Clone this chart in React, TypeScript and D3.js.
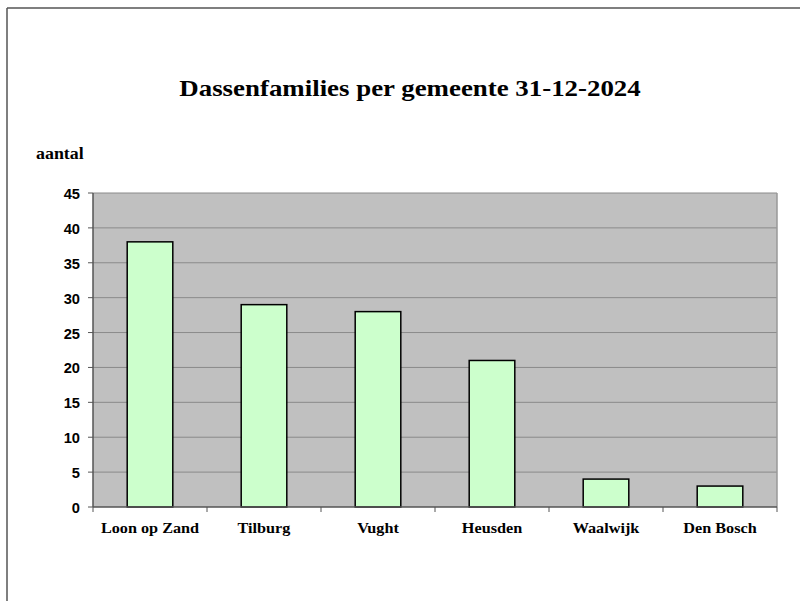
import React from "react";
import * as d3 from "d3";

const categories = ["Loon op Zand", "Tilburg", "Vught", "Heusden", "Waalwijk", "Den Bosch"];
const values = [38, 29, 28, 21, 4, 3];
const yTicks = [0, 5, 10, 15, 20, 25, 30, 35, 40, 45];
const title = "Dassenfamilies per gemeente 31-12-2024";
const yLabel = "aantal";

function SText({ x, y, sx, anchor, family, size, children }: any) {
  return (
    <text transform={`translate(${x},${y}) scale(${sx},1)`} textAnchor={anchor} fontFamily={family} fontWeight="bold" fontSize={size} fill="#000">{children}</text>
  );
}

export default function App() {
  const W = 800, H = 601;
  const left = 93, right = 777, top = 193, bottom = 507;
  const x = d3.scaleBand<string>().domain(categories).range([left, right]).paddingInner(0).paddingOuter(0);
  const y = d3.scaleLinear().domain([0, 45]).range([bottom, top]);
  const bw = x.bandwidth() * 0.4;
  const serif = "'Liberation Serif', 'Times New Roman', serif";
  const sans = "'Liberation Sans', Arial, sans-serif";
  return (
    <svg width={W} height={H} style={{ position: "absolute", left: 0, top: 0 }}>
      <rect x={0} y={0} width={W} height={H} fill="#fff" />
      <line x1={7} y1={8} x2={W} y2={8} stroke="#555" strokeWidth={1.5} />
      <line x1={7} y1={8} x2={7} y2={H} stroke="#555" strokeWidth={1.5} />
      <SText x={410} y={96} sx={1.12} anchor="middle" family={serif} size={24}>{title}</SText>
      <SText x={36} y={159} sx={1.12} anchor="start" family={serif} size={16}>{yLabel}</SText>
      <rect x={left} y={top} width={right - left} height={bottom - top} fill="#c0c0c0" />
      {yTicks.map(t => (
        <g key={t}>
          {t > 0 && <line x1={left} x2={right} y1={y(t)} y2={y(t)} stroke="#8a8a8a" strokeWidth={1} />}
          <line x1={left - 5} x2={left} y1={y(t)} y2={y(t)} stroke="#555" strokeWidth={1} />
          <SText x={80} y={y(t) + 6} sx={1.05} anchor="end" family={sans} size={14}>{t}</SText>
        </g>
      ))}
      <line x1={right} x2={right} y1={top} y2={bottom} stroke="#999" strokeWidth={1.5} />
      {categories.map((c, i) => (
        <rect key={c} x={(x(c) as number) + (x.bandwidth() - bw) / 2} y={y(values[i])} width={bw} height={y(0) - y(values[i])} fill="#ccffcc" stroke="#000" strokeWidth={1.5} />
      ))}
      <line x1={left} x2={left} y1={top} y2={bottom} stroke="#555" strokeWidth={1.5} />
      <line x1={left} x2={right} y1={bottom} y2={bottom} stroke="#555" strokeWidth={1.5} />
      {categories.map(c => (
        <line key={"t" + c} x1={(x(c) as number)} x2={(x(c) as number)} y1={bottom} y2={bottom + 5} stroke="#555" strokeWidth={1} />
      ))}
      <line x1={right} x2={right} y1={bottom} y2={bottom + 5} stroke="#555" strokeWidth={1} />
      {categories.map(c => (
        <SText key={"l" + c} x={(x(c) as number) + x.bandwidth() / 2} y={533} sx={1.08} anchor="middle" family={serif} size={15}>{c}</SText>
      ))}
    </svg>
  );
}
